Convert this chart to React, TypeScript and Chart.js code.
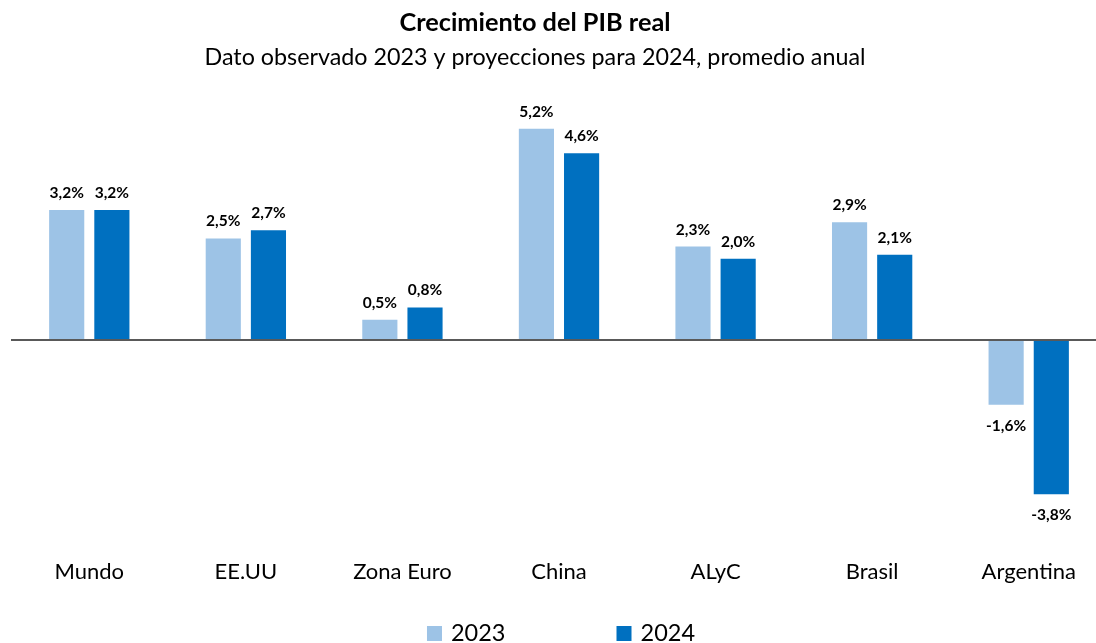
import React, { useEffect, useRef } from "react";
import { Chart, registerables } from "chart.js";

Chart.register(...registerables);

const categories = ["Mundo", "EE.UU", "Zona Euro", "China", "ALyC", "Brasil", "Argentina"];
const values2023 = [3.2, 2.5, 0.5, 5.2, 2.3, 2.9, -1.6];
const values2024 = [3.2, 2.7, 0.8, 4.6, 2.0, 2.1, -3.8];
const seriesLabels = ["2023", "2024"];
const seriesColors = ["#9DC3E6", "#0070C0"];
const titleText = "Crecimiento del PIB real";
const subtitleText = "Dato observado 2023 y proyecciones para 2024, promedio anual";

const FONT = "Lato";
const TITLE_CX = 535;

const fmt = (v: number) => v.toFixed(1).replace(".", ",") + "%";

const headerPlugin = {
  id: "header",
  afterDraw(chart: any) {
    const ctx = chart.ctx;
    ctx.save();
    ctx.fillStyle = "#000";
    ctx.textAlign = "center";
    ctx.textBaseline = "middle";
    ctx.font = `bold 25.3px ${FONT}`;
    ctx.fillText(titleText, TITLE_CX, 23);
    ctx.font = `23.3px ${FONT}`;
    ctx.fillText(subtitleText, TITLE_CX, 57);
    ctx.restore();
  },
};

const zeroLinePlugin = {
  id: "zeroLine",
  afterDatasetsDraw(chart: any) {
    const ctx = chart.ctx;
    const y = chart.scales.y.getPixelForValue(0);
    ctx.save();
    ctx.strokeStyle = "#595959";
    ctx.lineWidth = 2;
    ctx.beginPath();
    ctx.moveTo(chart.chartArea.left, y);
    ctx.lineTo(chart.chartArea.right, y);
    ctx.stroke();
    ctx.restore();
  },
};

const valueLabelPlugin = {
  id: "valueLabels",
  afterDatasetsDraw(chart: any) {
    const ctx = chart.ctx;
    ctx.save();
    ctx.font = `bold 15.5px ${FONT}`;
    ctx.fillStyle = "#000";
    ctx.textAlign = "center";
    ctx.textBaseline = "middle";
    chart.data.datasets.forEach((ds: any, i: number) => {
      const meta = chart.getDatasetMeta(i);
      meta.data.forEach((bar: any, j: number) => {
        const v = ds.data[j] as number;
        const y = v >= 0 ? bar.y - 17 : bar.y + 21;
        ctx.fillText(fmt(v), bar.x, y);
      });
    });
    ctx.restore();
  },
};

const legendPlugin = {
  id: "customLegend",
  afterDraw(chart: any) {
    const ctx = chart.ctx;
    const box = 15;
    const textGap = 9;
    const itemGap = 111;
    ctx.save();
    ctx.font = `23.5px ${FONT}`;
    ctx.textBaseline = "alphabetic";
    ctx.textAlign = "left";
    const items = chart.data.datasets.map((ds: any) => ({
      label: ds.label,
      color: ds.backgroundColor,
      w: box + textGap + ctx.measureText(ds.label).width,
    }));
    const total = items.reduce((s: number, it: any) => s + it.w, 0) + itemGap * (items.length - 1);
    let x = (chart.chartArea.left + chart.chartArea.right) / 2 + 2 - total / 2;
    const baseline = 641;
    items.forEach((it: any) => {
      ctx.fillStyle = it.color;
      ctx.fillRect(x, baseline - box, box, box);
      ctx.fillStyle = "#000";
      ctx.fillText(it.label, x + box + textGap, baseline);
      x += it.w + itemGap;
    });
    ctx.restore();
  },
};

export default function App() {
  const canvasRef = useRef<HTMLCanvasElement | null>(null);

  useEffect(() => {
    if (!canvasRef.current) return;
    const chart = new Chart(canvasRef.current, {
      type: "bar",
      data: {
        labels: categories,
        datasets: [
          {
            label: seriesLabels[0],
            data: values2023,
            backgroundColor: seriesColors[0],
            barPercentage: 0.778,
            categoryPercentage: 0.577,
          },
          {
            label: seriesLabels[1],
            data: values2024,
            backgroundColor: seriesColors[1],
            barPercentage: 0.778,
            categoryPercentage: 0.577,
          },
        ],
      },
      options: {
        responsive: false,
        animation: false,
        devicePixelRatio: 1,
        layout: { padding: { left: 11, right: 0, top: 96.4, bottom: 58.4 } },
        plugins: {
          legend: { display: false },
          title: { display: false },
          tooltip: { enabled: false },
        },
        scales: {
          y: {
            display: false,
            min: -4.2,
            max: 6.0,
          },
          x: {
            grid: { display: false, drawTicks: false },
            border: { display: false },
            ticks: {
              color: "#000",
              font: { family: FONT, size: 22 },
              padding: 48,
              maxRotation: 0,
              autoSkip: false,
            },
            afterFit: (scale: any) => {
              scale.paddingLeft = 0;
              scale.paddingRight = 0;
              scale.height = 74.2;
            },
          },
        },
      },
      plugins: [zeroLinePlugin, valueLabelPlugin, headerPlugin, legendPlugin],
    });
    return () => chart.destroy();
  }, []);

  return (
    <div
      style={{
        position: "absolute",
        left: 0,
        top: 0,
        width: 1096,
        height: 643,
        overflow: "hidden",
        background: "#fff",
      }}
    >
      <canvas ref={canvasRef} width={1107} height={643} style={{ display: "block" }} />
    </div>
  );
}
